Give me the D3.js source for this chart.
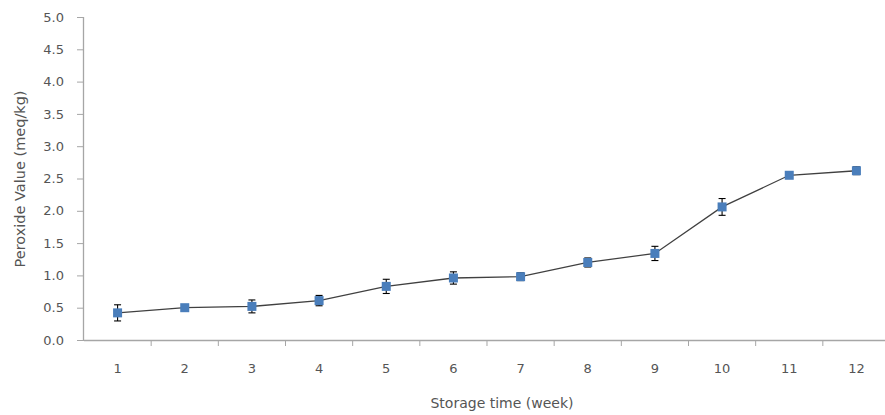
<!DOCTYPE html>
<html>
<head>
<meta charset="utf-8">
<script src="https://cdn.jsdelivr.net/npm/d3@7"></script>
<style>
  html, body { margin: 0; padding: 0; background: #fff; }
  svg { display: block; font-family: "DejaVu Sans", Verdana, sans-serif; }
</style>
</head>
<body>
<svg id="chart" width="885" height="415"></svg>
<script>
// Peroxide value over storage time (mean ± SD)
const weeks = ["1", "2", "3", "4", "5", "6", "7", "8", "9", "10", "11", "12"];
const peroxide = [0.42, 0.50, 0.52, 0.61, 0.83, 0.96, 0.98, 1.20, 1.34, 2.06, 2.55, 2.62];
const errors = [0.125, 0.03, 0.10, 0.08, 0.11, 0.095, 0.06, 0.07, 0.11, 0.13, 0.05, 0.06];
const yTicks = [0, 0.5, 1.0, 1.5, 2.0, 2.5, 3.0, 3.5, 4.0, 4.5, 5.0];

const svg = d3.select("#chart");
const plot = { left: 84, right: 890, top: 17, bottom: 340 };

const x = d3.scaleBand().domain(weeks).range([plot.left, plot.right]).paddingInner(0).paddingOuter(0);
const y = d3.scaleLinear().domain([0, 5]).range([plot.bottom, plot.top]);

const axisColor = "#a6a6a6";
const textColor = "#555555";

// Y axis
const yAxis = svg.append("g")
  .attr("transform", `translate(${plot.left},0)`)
  .call(d3.axisLeft(y).tickValues(yTicks).tickFormat(d3.format(".1f")).tickSize(7).tickPadding(13));
// X axis (ticks between categories)
const xAxis = svg.append("g")
  .attr("transform", `translate(0,${plot.bottom})`)
  .call(d3.axisBottom(x).tickSize(0).tickPadding(24));
xAxis.selectAll(".tick").append("line")
  .attr("x1", x.bandwidth() / 2).attr("x2", x.bandwidth() / 2)
  .attr("y1", 0).attr("y2", 6)
  .attr("stroke", axisColor);

[yAxis, xAxis].forEach(g => {
  g.select(".domain").attr("stroke", axisColor).attr("stroke-width", 1.3);
  g.selectAll(".tick line").attr("stroke", axisColor);
  g.selectAll(".tick text").attr("fill", textColor).attr("font-size", 13)
    .attr("font-family", "'DejaVu Sans', sans-serif");
});
yAxis.select(".domain").attr("d", `M-0.5,${plot.top}V${plot.bottom}`);
xAxis.select(".domain").attr("d", `M${plot.left},0.5H${plot.right}`);

const cx = d => x(d) + x.bandwidth() / 2;
const pts = weeks.map((w, i) => ({ w, v: peroxide[i], e: errors[i] }));

// Connecting line
svg.append("path")
  .datum(pts)
  .attr("fill", "none")
  .attr("stroke", "#404040")
  .attr("stroke-width", 1.3)
  .attr("d", d3.line().x(d => cx(d.w)).y(d => y(d.v)));

// Error bars
const eb = svg.append("g").attr("stroke", "#000").attr("stroke-width", 1.1);
pts.forEach(d => {
  const px = cx(d.w);
  eb.append("line").attr("x1", px).attr("x2", px).attr("y1", y(d.v - d.e)).attr("y2", y(d.v + d.e));
  eb.append("line").attr("x1", px - 3.5).attr("x2", px + 3.5).attr("y1", y(d.v + d.e)).attr("y2", y(d.v + d.e));
  eb.append("line").attr("x1", px - 3.5).attr("x2", px + 3.5).attr("y1", y(d.v - d.e)).attr("y2", y(d.v - d.e));
});

// Markers
svg.append("g").selectAll("rect")
  .data(pts)
  .join("rect")
  .attr("x", d => cx(d.w) - 4.5)
  .attr("y", d => y(d.v) - 4.5)
  .attr("width", 9).attr("height", 9)
  .attr("fill", "#4a7ebb");

// Axis titles
svg.append("text")
  .attr("x", 502).attr("y", 408)
  .attr("text-anchor", "middle")
  .attr("fill", textColor).attr("font-size", 14)
  .text("Storage time (week)");
svg.append("text")
  .attr("transform", "translate(25,179) rotate(-90)")
  .attr("text-anchor", "middle")
  .attr("fill", textColor).attr("font-size", 14.5)
  .text("Peroxide Value (meq/kg)");
</script>
</body>
</html>
